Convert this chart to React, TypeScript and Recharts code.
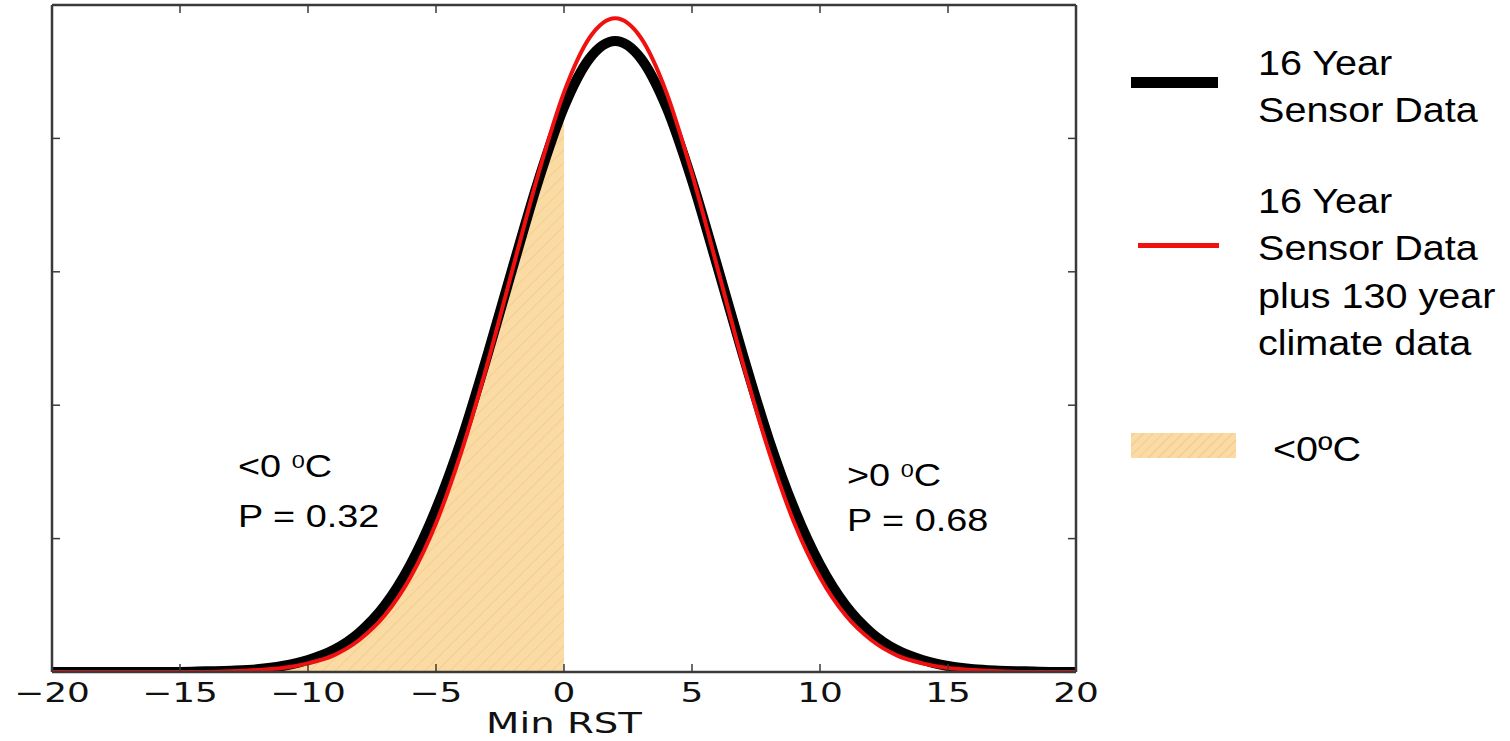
import React from 'react';
import { ComposedChart, Line, Area, XAxis, YAxis } from 'recharts';

// Min RST values (°C) at which the curves were read
const xValues = [
  -20, -19, -18, -17, -16, -15, -14, -13, -12, -11, -10, -9, -8, -7, -6, -5, -4, -3, -2, -1,
  0, 1, 2, 3, 4, 5, 6, 7, 8, 9, 10, 11, 12, 13, 14, 15, 16, 17, 18, 19, 20,
];

// 16 Year Sensor Data (probability density)
const sensor16 = [
  0, 0, 0, 0, 0, 0, 0.0001, 0.0002, 0.0004, 0.0009, 0.0018, 0.0033, 0.0059, 0.01, 0.0161, 0.0244,
  0.0349, 0.0474, 0.0607, 0.0737, 0.0847, 0.092, 0.0946, 0.092, 0.0847, 0.0737, 0.0607, 0.0474,
  0.0349, 0.0244, 0.0161, 0.01, 0.0059, 0.0033, 0.0018, 0.0009, 0.0004, 0.0002, 0.0001, 0, 0,
];

// 16 Year Sensor Data plus 130 year climate data (probability density)
const sensorPlusClimate = [
  0, 0, 0, 0, 0, 0, 0, 0.0001, 0.0003, 0.0006, 0.0013, 0.0025, 0.0048, 0.0085, 0.0142, 0.0223,
  0.0331, 0.0461, 0.0605, 0.0747, 0.0869, 0.0951, 0.098, 0.0951, 0.0869, 0.0747, 0.0605, 0.0461,
  0.0331, 0.0223, 0.0142, 0.0085, 0.0048, 0.0025, 0.0013, 0.0006, 0.0003, 0.0001, 0, 0, 0,
];

const freezeLimit = 0;
const xTicks = [-20, -15, -10, -5, 0, 5, 10, 15, 20];
const yTicks = [0, 0.02, 0.04, 0.06, 0.08, 0.1];
const xDomain = [-20, 20];
const yDomain = [0, 0.1];

const legendSensor = ['16 Year', 'Sensor Data'];
const legendCombined = ['16 Year', 'Sensor Data', 'plus 130 year', 'climate data'];
const legendShade = '<0ºC';
const xLabel = 'Min RST';

const data = xValues.map((x, i) => ({
  x,
  sensor: sensor16[i],
  combined: sensorPlusClimate[i],
  below: x <= freezeLimit ? sensor16[i] : null,
}));

const FRAME = '#3a3a3a';
const TICK_FONT = 'DejaVu Sans, Verdana, sans-serif';
const TEXT_FONT = 'Liberation Sans, Arial, sans-serif';

const fmt = (v: number) => (v < 0 ? `\u2212${Math.abs(v)}` : `${v}`);

const BottomTick = (props: any) => {
  const { x, y, payload } = props;
  return (
    <g>
      <line x1={x} x2={x} y1={y} y2={y - 8} stroke={FRAME} strokeWidth={1.5} />
      <text
        transform={`translate(${x},${y + 30}) scale(1.33,1)`}
        textAnchor="middle"
        fontFamily={TICK_FONT}
        fontSize={27}
        fill="#111"
      >
        {fmt(payload.value)}
      </text>
    </g>
  );
};

const TopTick = (props: any) => {
  const { x, y } = props;
  return <line x1={x} x2={x} y1={y} y2={y + 8} stroke={FRAME} strokeWidth={1.5} />;
};

const LeftTick = (props: any) => {
  const { x, y } = props;
  return <line x1={x} x2={x + 8} y1={y} y2={y} stroke={FRAME} strokeWidth={1.5} />;
};

const RightTick = (props: any) => {
  const { x, y } = props;
  return <line x1={x} x2={x - 8} y1={y} y2={y} stroke={FRAME} strokeWidth={1.5} />;
};

const AxisLabel = (props: any) => {
  const vb = props.viewBox || { x: 0, y: 0, width: 0, height: 0 };
  return (
    <text
      transform={`translate(${vb.x + vb.width / 2},${vb.y + 61}) scale(1.38,1)`}
      textAnchor="middle"
      fontFamily={TICK_FONT}
      fontSize={28}
      fill="#111"
    >
      {xLabel}
    </text>
  );
};

const textStyle: React.CSSProperties = {
  position: 'absolute',
  fontFamily: TEXT_FONT,
  color: '#000',
  whiteSpace: 'nowrap',
  transformOrigin: 'left center',
};

const Sup = ({ children }: { children: React.ReactNode }) => (
  <span style={{ fontSize: '0.62em', position: 'relative', top: '-0.5em' }}>{children}</span>
);

const Line1 = ({ left, centre, size, scale, children }: any) => (
  <div
    style={{
      ...textStyle,
      left,
      top: centre - size * 0.6,
      height: size * 1.2,
      lineHeight: `${size * 1.2}px`,
      fontSize: size,
      transform: `scaleX(${scale})`,
    }}
  >
    {children}
  </div>
);

export default function App() {
  return (
    <div style={{ position: 'absolute', left: 0, top: 0, width: 1510, height: 741, background: '#fff' }}>
      <ComposedChart
        width={1510}
        height={741}
        data={data}
        margin={{ top: 4, right: 433, bottom: 0, left: 51 }}
      >
        <defs>
          <pattern id="hatch" patternUnits="userSpaceOnUse" width="9" height="9" patternTransform="rotate(45)">
            <rect width="9" height="9" fill="#FADBA4" />
            <line x1="0" y1="0" x2="0" y2="9" stroke="#F5CD8E" strokeWidth="2" />
          </pattern>
        </defs>
        <XAxis
          dataKey="x"
          type="number"
          domain={xDomain}
          ticks={xTicks}
          interval={0}
          allowDataOverflow
          height={69}
          tickSize={0}
          tickMargin={0}
          tickLine={false}
          tick={<BottomTick />}
          axisLine={{ stroke: FRAME, strokeWidth: 2.5 }}
          label={<AxisLabel />}
        />
        <XAxis
          xAxisId="top"
          orientation="top"
          dataKey="x"
          type="number"
          domain={xDomain}
          ticks={xTicks}
          interval={0}
          allowDataOverflow
          height={1}
          tickSize={0}
          tickMargin={0}
          tickLine={false}
          tick={<TopTick />}
          axisLine={{ stroke: FRAME, strokeWidth: 2.5 }}
        />
        <YAxis
          type="number"
          domain={yDomain}
          ticks={yTicks}
          interval={0}
          allowDataOverflow
          width={1}
          tickSize={0}
          tickMargin={0}
          tickLine={false}
          tick={<LeftTick />}
          axisLine={{ stroke: FRAME, strokeWidth: 2.5 }}
        />
        <YAxis
          yAxisId="right"
          orientation="right"
          type="number"
          domain={yDomain}
          ticks={yTicks}
          interval={0}
          allowDataOverflow
          width={1}
          tickSize={0}
          tickMargin={0}
          tickLine={false}
          tick={<RightTick />}
          axisLine={{ stroke: FRAME, strokeWidth: 2.5 }}
        />
        <Area
          type="monotone"
          dataKey="below"
          stroke="none"
          fill="url(#hatch)"
          fillOpacity={1}
          isAnimationActive={false}
          activeDot={false}
        />
        <Line
          type="monotone"
          dataKey="sensor"
          stroke="#000"
          strokeWidth={10}
          dot={false}
          activeDot={false}
          isAnimationActive={false}
        />
        <Line
          type="monotone"
          dataKey="combined"
          stroke="#f01010"
          strokeWidth={4}
          dot={false}
          activeDot={false}
          isAnimationActive={false}
        />
      </ComposedChart>

      {/* Annotations */}
      <Line1 left={238} centre={467} size={31} scale={1.22}>
        {'<0 '}
        <Sup>0</Sup>C
      </Line1>
      <Line1 left={238} centre={517} size={31} scale={1.22}>
        P = 0.32
      </Line1>
      <Line1 left={847} centre={476} size={31} scale={1.22}>
        {'>0 '}
        <Sup>0</Sup>C
      </Line1>
      <Line1 left={847} centre={521} size={31} scale={1.22}>
        P = 0.68
      </Line1>

      {/* Legend */}
      <div style={{ position: 'absolute', left: 1131, top: 77, width: 87, height: 11, background: '#000' }} />
      {legendSensor.map((t, i) => (
        <Line1 key={'s' + i} left={1258} centre={62.5 + i * 47.5} size={35} scale={1.13}>
          {t}
        </Line1>
      ))}
      <div style={{ position: 'absolute', left: 1138, top: 243, width: 81, height: 5, background: '#f01010' }} />
      {legendCombined.map((t, i) => (
        <Line1 key={'c' + i} left={1258} centre={200.5 + i * 47.5} size={35} scale={1.13}>
          {t}
        </Line1>
      ))}
      <div
        style={{
          position: 'absolute',
          left: 1131,
          top: 433,
          width: 105,
          height: 25,
          background:
            'repeating-linear-gradient(-45deg, #FBDBA5 0px, #FBDBA5 5px, #F6D094 5px, #F6D094 7px)',
        }}
      />
      <Line1 left={1273} centre={449} size={35} scale={1.13}>
        {legendShade}
      </Line1>
    </div>
  );
}
